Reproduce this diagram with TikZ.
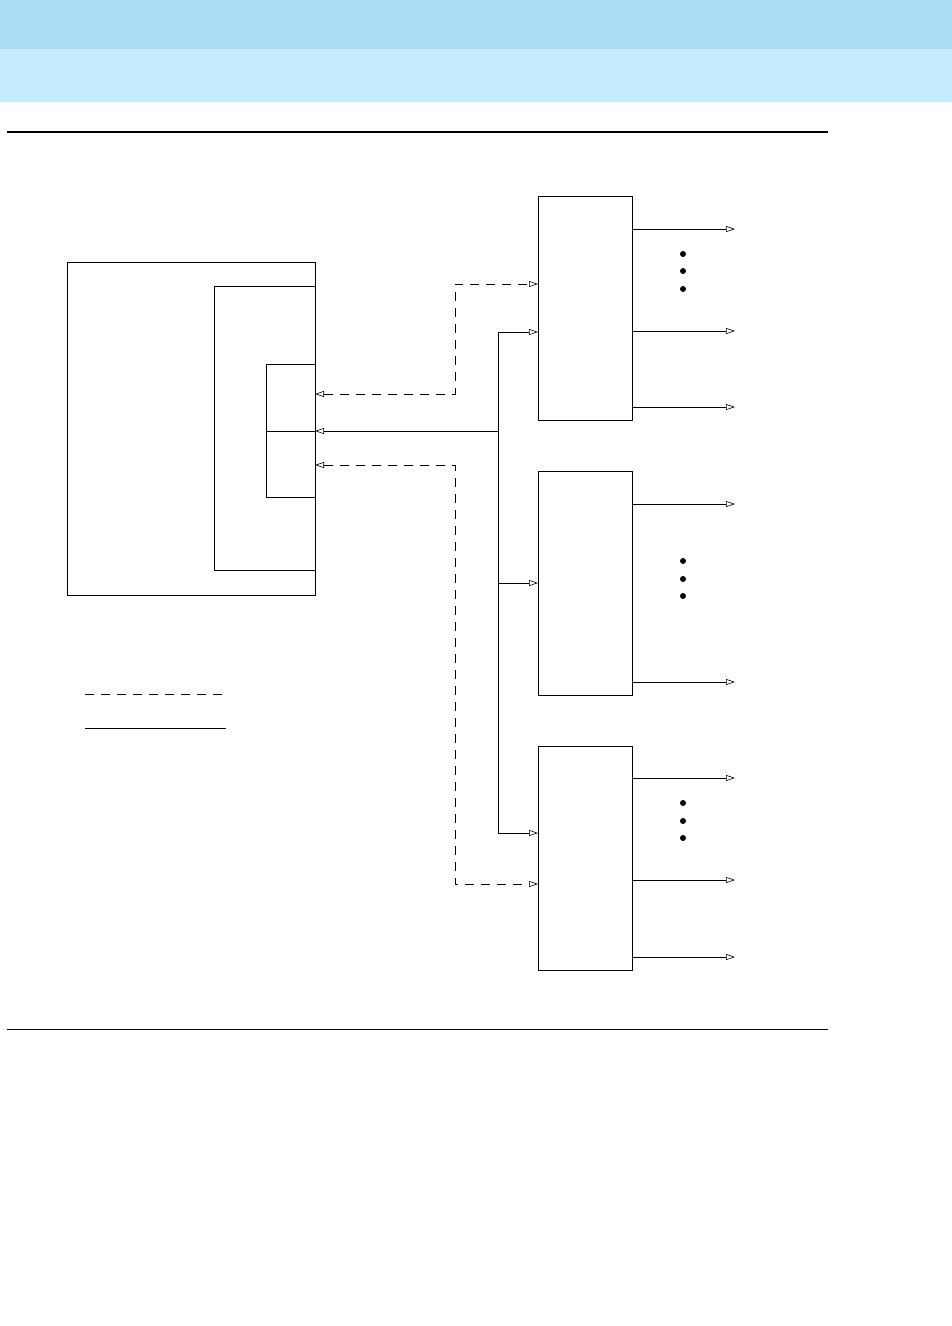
\documentclass[tikz,border=0pt]{standalone}
\usetikzlibrary{arrows.meta}
\definecolor{HdrDark}{HTML}{ABDEF6}
\definecolor{HdrLight}{HTML}{C5EBFD}

\begin{document}
\begin{tikzpicture}[x=1pt,y=-1pt,line width=0.8pt,
    >={Triangle[open,length=9pt,width=6pt,line width=0.6pt]},
    unit/.style={draw,inner sep=0pt,outer sep=0pt},
    blk/.style={unit,minimum width=94pt,minimum height=224pt},
    ctl/.style={dash pattern=on 9pt off 7pt}]

  \useasboundingbox (0,0) rectangle (952,1326);
  % page header
  \fill[HdrDark] (0,0) rectangle (952,49);
  \fill[HdrLight] (0,49) rectangle (952,102);
  \draw[line width=2pt] (7,131.5) -- (828,131.5);
  \draw[line width=1pt] (7,1029) -- (828,1029);

  % left unit with card and port
  \node[unit,minimum width=248pt,minimum height=333pt] (unit) at (191,428.5) {};
  \node[unit,minimum width=101pt,minimum height=284pt] (card) at (264.5,428) {};
  \node[unit,minimum width=49pt,minimum height=133pt] (port) at (290.5,431) {};
  \draw (port.west) -- (port.east);

  % right blocks
  \node[blk] (b1) at (585,308) {};
  \node[blk] (b2) at (585,583) {};
  \node[blk] (b3) at (585,858) {};

  % outputs
  \foreach \b/\dy in {b1/79,b1/-23,b1/-99,b2/79,b2/-99,b3/80,b3/-22,b3/-99}
    \draw[->] ([yshift=\dy pt]\b.east) -- ++(103,0);
  \foreach \b/\dy in {b1/54,b1/37,b1/19,b2/22,b2/4,b2/-13,b3/55,b3/37,b3/20}
    \fill ([xshift=51pt,yshift=\dy pt]\b.east) circle (3pt);

  % solid bus
  \coordinate (busT) at (498,332);
  \coordinate (busM) at (498,431);
  \coordinate (busB) at (498,833);
  \draw (busT) -- (busB);
  \draw[->] (busM) -- (port.east);
  \draw[->] (busT) -- (busT -| b1.west);
  \draw[->] (b2.west -| busT) -- (b2.west);
  \draw[->] (busB) -- (busB -| b3.west);

  % dashed control lines
  \coordinate (ctlT) at (455,284);
  \coordinate (ctlTa) at (455,394);
  \coordinate (ctlB) at (455,884);
  \coordinate (ctlBa) at (455,465);
  \draw[ctl,<->] (ctlTa -| port.east) -- (ctlTa) |- (ctlT -| b1.west);
  \draw[ctl,<->] (ctlBa -| port.east) -- (ctlBa) |- (ctlB -| b3.west);

  % legend
  \coordinate (legA) at (85,694);
  \coordinate (legB) at (226,694);
  \coordinate (legC) at (85,728);
  \coordinate (legD) at (226,728);
  \draw[ctl] (legA) -- (legB);
  \draw (legC) -- (legD);
\end{tikzpicture}
\end{document}
